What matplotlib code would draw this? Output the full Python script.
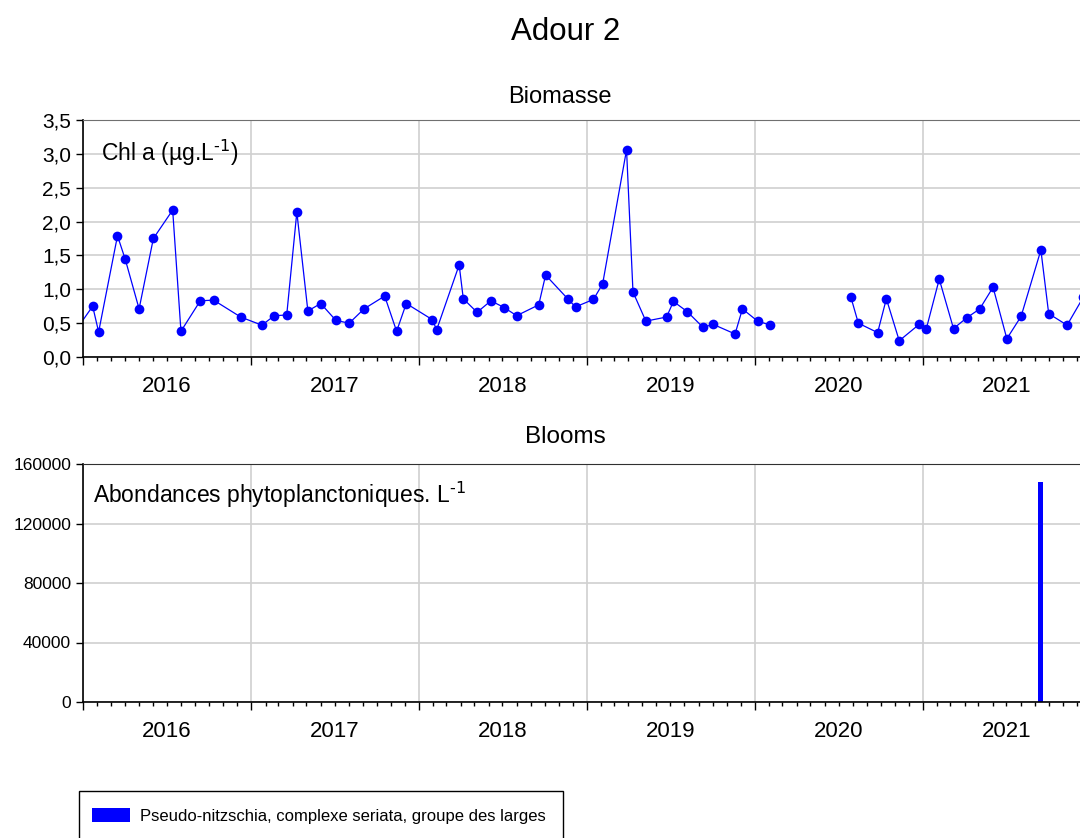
import numpy as np
import pandas as pd
import matplotlib
matplotlib.use('Agg')
import matplotlib.pyplot as plt
import matplotlib.dates as mdates
import matplotlib.transforms as mtransforms
from matplotlib.patches import Rectangle
from matplotlib.ticker import FuncFormatter

plt.rcParams['font.family'] = ['Liberation Sans', 'DejaVu Sans']
plt.rcParams['mathtext.default'] = 'regular'

# chlorophylle a (µg/L) par date de prelevement
chl_dates = ['2015-12-17', '2016-01-22', '2016-02-04', '2016-03-16', '2016-04-02',
             '2016-05-02', '2016-06-02', '2016-07-14', '2016-08-01', '2016-09-12',
             '2016-10-11', '2016-12-09', '2017-01-24', '2017-02-20', '2017-03-19',
             '2017-04-10', '2017-05-04', '2017-06-01', '2017-07-04', '2017-08-02',
             '2017-09-03', '2017-10-18', '2017-11-13', '2017-12-04', '2018-01-30',
             '2018-02-08', '2018-03-29', '2018-04-07', '2018-05-07', '2018-06-06',
             '2018-07-05', '2018-08-01', '2018-09-18', '2018-10-03', '2018-11-20',
             '2018-12-07', '2019-01-15', '2019-02-04', '2019-03-28', '2019-04-11',
             '2019-05-09', '2019-06-23', '2019-07-08', '2019-08-07', '2019-09-10',
             '2019-10-03', '2019-11-19', '2019-12-05', '2020-01-07', '2020-02-04',
             '2020-07-28', '2020-08-13', '2020-09-24', '2020-10-13', '2020-11-10',
             '2020-12-23', '2021-01-08', '2021-02-05', '2021-03-08', '2021-04-06',
             '2021-05-04', '2021-06-02', '2021-07-02', '2021-08-02', '2021-09-14',
             '2021-10-01', '2021-11-10', '2021-12-15']
chl_values = [0.40, 0.75, 0.37, 1.79, 1.44,
              0.71, 1.75, 2.17, 0.38, 0.83,
              0.84, 0.59, 0.47, 0.61, 0.62,
              2.14, 0.68, 0.79, 0.54, 0.50,
              0.71, 0.90, 0.38, 0.79, 0.55,
              0.40, 1.36, 0.86, 0.66, 0.83,
              0.73, 0.61, 0.77, 1.21, 0.86,
              0.74, 0.85, 1.08, 3.06, 0.96,
              0.53, 0.59, 0.82, 0.67, 0.44,
              0.48, 0.34, 0.71, 0.53, 0.47,
              0.88, 0.50, 0.36, 0.86, 0.24,
              0.48, 0.42, 1.15, 0.42, 0.58,
              0.71, 1.03, 0.27, 0.60, 1.58,
              0.64, 0.47, 0.88]

# blooms : abondances (cellules/L)
bloom_dates = ['2021-09-14']
bloom_values = [148000]
bloom_taxon = 'Pseudo-nitzschia, complexe seriata, groupe des larges'

years = [2016, 2017, 2018, 2019, 2020, 2021]
chl_ticks = [0.0, 0.5, 1.0, 1.5, 2.0, 2.5, 3.0, 3.5]
bloom_ticks = [0, 40000, 80000, 120000, 160000]

blue = '#0000ff'
W, H = 1080, 838


def box(l, t, r, b):
    return [l / W, 1 - b / H, (r - l) / W, (b - t) / H]


def style_time_axis(ax, top_color):
    ax.set_xlim(pd.Timestamp(f'{years[0]}-01-01'), pd.Timestamp(f'{years[-1] + 1}-01-01'))
    ax.xaxis.set_major_locator(mdates.YearLocator())
    ax.xaxis.set_minor_locator(mdates.MonthLocator())
    ax.xaxis.set_major_formatter(plt.NullFormatter())
    ax.tick_params(axis='x', which='major', length=6, width=1, direction='out')
    ax.tick_params(axis='x', which='minor', length=3, width=1, direction='out')
    ax.tick_params(axis='y', length=5, width=1, direction='out')
    ax.grid(True, which='major', color='#d0d0d0', linewidth=1.2)
    ax.set_axisbelow(True)
    ax.spines['right'].set_visible(False)
    ax.spines['top'].set_color(top_color)
    ax.spines['left'].set_linewidth(1.2)
    ax.spines['bottom'].set_linewidth(1.2)
    trans = mtransforms.blended_transform_factory(ax.transData, ax.transAxes)
    for y in years:
        ax.text(pd.Timestamp(f'{y}-07-02'), -0.125, str(y), transform=trans,
                ha='center', va='center', fontsize=16)


fig = plt.figure(figsize=(W / 100, H / 100), dpi=100)

fig.text(566 / W, 1 - 32 / H, 'Adour 2', ha='center', va='center', fontsize=22.5)

# --- Biomasse ---
ax1 = fig.add_axes(box(83, 120, 1091, 357))
df = pd.DataFrame({'date': pd.to_datetime(chl_dates), 'chl': chl_values})
# pas de trait entre deux prelevements trop espaces
seg = (df['date'].diff() > pd.Timedelta(days=120)).cumsum()
for _, g in df.groupby(seg):
    ax1.plot(g['date'], g['chl'], color=blue, linewidth=0.9,
             marker='o', markersize=7, markeredgewidth=0)
ax1.set_ylim(0, 3.5)
ax1.set_yticks(chl_ticks)
ax1.yaxis.set_major_formatter(FuncFormatter(lambda v, p: f'{v:.1f}'.replace('.', ',')))
ax1.tick_params(axis='y', labelsize=15)
style_time_axis(ax1, '#707070')
ax1.text(0.018, 0.86, r'Chl a (µg.L$^{\text{-1}}$)', transform=ax1.transAxes,
         ha='left', va='center', fontsize=16.5)
fig.text(560 / W, 1 - 97 / H, 'Biomasse', ha='center', va='center', fontsize=17)

# --- Blooms ---
ax2 = fig.add_axes(box(83, 464, 1091, 702))
bars = ax2.bar(pd.to_datetime(bloom_dates), bloom_values, width=11,
               color=blue, label=bloom_taxon)
ax2.set_ylim(0, 160000)
ax2.set_yticks(bloom_ticks)
ax2.tick_params(axis='y', labelsize=12.5)
style_time_axis(ax2, '#303030')
ax2.text(0.01, 0.87, r'Abondances phytoplanctoniques. L$^{\text{-1}}$', transform=ax2.transAxes,
         ha='left', va='center', fontsize=16.5)
fig.text(565 / W, 1 - 437 / H, 'Blooms', ha='center', va='center', fontsize=17.5)

# legende : cadre ouvert vers le bas
fig.patches.append(Rectangle((79 / W, -0.02), (563 - 79) / W, 0.02 + 1 - 791 / H,
                             transform=fig.transFigure, fill=False,
                             edgecolor='black', linewidth=1.0))
fig.legend(handles=[bars], loc='center left', bbox_to_anchor=(92 / W, 1 - 816 / H),
           frameon=False, fontsize=12, borderpad=0, borderaxespad=0,
           handlelength=2.3, handleheight=0.9, handletextpad=0.55)

fig.savefig('out.png', dpi=100)
